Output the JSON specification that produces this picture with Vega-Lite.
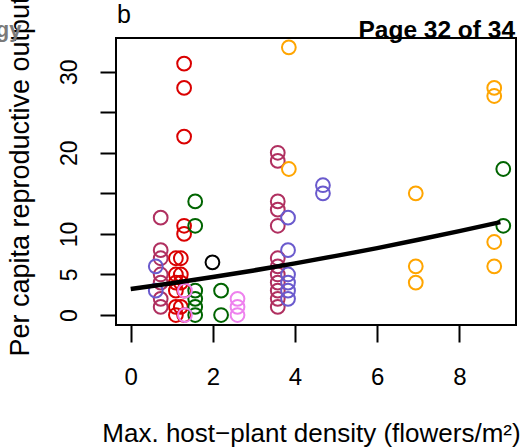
{
  "$schema": "https://vega.github.io/schema/vega-lite/v6.json",
  "width": 400,
  "height": 287,
  "autosize": {"type": "none"},
  "padding": {"left": 116, "top": 38, "right": 16, "bottom": 123},
  "background": "white",
  "config": {
    "view": {"stroke": "black", "strokeWidth": 2},
    "font": "Liberation Sans",
    "axis": {
      "grid": false,
      "domain": false,
      "tickColor": "black",
      "tickWidth": 2,
      "labelColor": "black",
      "titleColor": "black",
      "labelFont": "Liberation Sans",
      "titleFont": "Liberation Sans",
      "titleFontWeight": "normal",
      "labelFontSize": 24,
      "titleFontSize": 26
    }
  },
  "datasets": {
    "pts": [
      {"x": 1.30, "y": 31, "g": "red"},
      {"x": 1.30, "y": 28, "g": "red"},
      {"x": 1.30, "y": 22, "g": "red"},
      {"x": 1.30, "y": 11, "g": "red"},
      {"x": 1.30, "y": 10, "g": "red"},
      {"x": 1.10, "y": 7, "g": "red"},
      {"x": 1.22, "y": 7, "g": "red"},
      {"x": 1.10, "y": 5, "g": "red"},
      {"x": 1.22, "y": 5, "g": "red"},
      {"x": 1.10, "y": 4, "g": "red"},
      {"x": 1.22, "y": 4, "g": "red"},
      {"x": 1.10, "y": 3, "g": "red"},
      {"x": 1.30, "y": 3, "g": "red"},
      {"x": 1.10, "y": 1, "g": "red"},
      {"x": 1.22, "y": 1, "g": "red"},
      {"x": 1.10, "y": 0, "g": "red"},
      {"x": 1.30, "y": 0, "g": "red"},
      {"x": 0.73, "y": 12, "g": "maroon"},
      {"x": 0.73, "y": 8, "g": "maroon"},
      {"x": 0.73, "y": 7, "g": "maroon"},
      {"x": 0.73, "y": 5, "g": "maroon"},
      {"x": 0.73, "y": 4, "g": "maroon"},
      {"x": 0.73, "y": 2, "g": "maroon"},
      {"x": 0.73, "y": 1, "g": "maroon"},
      {"x": 3.58, "y": 20, "g": "maroon"},
      {"x": 3.58, "y": 19, "g": "maroon"},
      {"x": 3.58, "y": 14, "g": "maroon"},
      {"x": 3.58, "y": 13, "g": "maroon"},
      {"x": 3.58, "y": 11, "g": "maroon"},
      {"x": 3.58, "y": 7, "g": "maroon"},
      {"x": 3.58, "y": 6, "g": "maroon"},
      {"x": 3.58, "y": 5, "g": "maroon"},
      {"x": 3.58, "y": 4, "g": "maroon"},
      {"x": 3.58, "y": 3, "g": "maroon"},
      {"x": 3.58, "y": 2, "g": "maroon"},
      {"x": 3.58, "y": 1, "g": "maroon"},
      {"x": 0.61, "y": 6, "g": "slateblue"},
      {"x": 0.61, "y": 3, "g": "slateblue"},
      {"x": 3.83, "y": 12, "g": "slateblue"},
      {"x": 3.83, "y": 8, "g": "slateblue"},
      {"x": 3.83, "y": 5, "g": "slateblue"},
      {"x": 3.83, "y": 4, "g": "slateblue"},
      {"x": 3.83, "y": 3, "g": "slateblue"},
      {"x": 3.83, "y": 2, "g": "slateblue"},
      {"x": 4.68, "y": 16, "g": "slateblue"},
      {"x": 4.68, "y": 15, "g": "slateblue"},
      {"x": 1.57, "y": 14, "g": "green"},
      {"x": 1.57, "y": 11, "g": "green"},
      {"x": 1.57, "y": 3, "g": "green"},
      {"x": 1.57, "y": 2, "g": "green"},
      {"x": 1.57, "y": 1, "g": "green"},
      {"x": 1.57, "y": 0, "g": "green"},
      {"x": 2.20, "y": 3, "g": "green"},
      {"x": 2.20, "y": 0, "g": "green"},
      {"x": 9.07, "y": 18, "g": "green"},
      {"x": 9.07, "y": 11, "g": "green"},
      {"x": 1.99, "y": 6.5, "g": "black"},
      {"x": 1.32, "y": 3, "g": "violet"},
      {"x": 1.32, "y": 0, "g": "violet"},
      {"x": 2.60, "y": 2, "g": "violet"},
      {"x": 2.60, "y": 1, "g": "violet"},
      {"x": 2.60, "y": 0, "g": "violet"},
      {"x": 3.85, "y": 33, "g": "orange"},
      {"x": 3.85, "y": 18, "g": "orange"},
      {"x": 6.94, "y": 15, "g": "orange"},
      {"x": 6.94, "y": 6, "g": "orange"},
      {"x": 6.94, "y": 4, "g": "orange"},
      {"x": 8.85, "y": 28, "g": "orange"},
      {"x": 8.85, "y": 27, "g": "orange"},
      {"x": 8.85, "y": 9, "g": "orange"},
      {"x": 8.85, "y": 6, "g": "orange"}
    ],
    "fit": [
      {"x": 0, "y": 3.2},
      {"x": 1, "y": 3.92},
      {"x": 2, "y": 4.68},
      {"x": 3, "y": 5.5},
      {"x": 4, "y": 6.37},
      {"x": 5, "y": 7.29},
      {"x": 6, "y": 8.25},
      {"x": 7, "y": 9.27},
      {"x": 8, "y": 10.34},
      {"x": 9, "y": 11.45}
    ],
    "one": [{}]
  },
  "layer": [
    {
      "data": {"name": "pts"},
      "mark": {"type": "point", "shape": "circle", "filled": false, "size": 190, "strokeWidth": 2, "opacity": 1},
      "encoding": {
        "x": {
          "field": "x", "type": "quantitative",
          "scale": {"domain": [-0.358, 9.38], "nice": false, "zero": false},
          "axis": {
            "values": [0, 2, 4, 6, 8],
            "title": "Max. host−plant density (flowers/m²)",
            "tickSize": 17, "offset": 0,
            "labelPadding": 23, "labelBaseline": "top", "labelAlign": "center",
            "titleX": 195, "titleY": 116, "titleAlign": "center", "titleBaseline": "alphabetic"
          }
        },
        "y": {
          "field": "y", "type": "quantitative",
          "scale": {"domain": [-1.23, 34.15], "nice": false, "zero": false},
          "axis": {
            "values": [0, 5, 10, 15, 20, 25, 30],
            "labelExpr": "datum.value == 15 || datum.value == 25 ? '' : datum.label",
            "title": "Per capita reproductive output",
            "tickSize": 16, "offset": 0,
            "labelAngle": -90, "labelAlign": "center", "labelBaseline": "alphabetic",
            "labelPadding": 24, "labelFontSize": 23,
            "titleFontSize": 27,
            "titleAngle": -90, "titleX": -88, "titleY": 138, "titleAlign": "center", "titleBaseline": "alphabetic"
          }
        },
        "color": {
          "field": "g", "type": "nominal", "legend": null,
          "scale": {
            "domain": ["red", "maroon", "slateblue", "green", "black", "violet", "orange"],
            "range": ["#DA0000", "#B03060", "#6A5ACD", "#006400", "#000000", "#EE82EE", "#FFA500"]
          }
        }
      }
    },
    {
      "data": {"name": "fit"},
      "mark": {"type": "line", "color": "black", "strokeWidth": 4.5},
      "encoding": {
        "x": {"field": "x", "type": "quantitative"},
        "y": {"field": "y", "type": "quantitative"}
      }
    },
    {
      "data": {"name": "one"},
      "mark": {"type": "text", "text": "Ecology", "align": "right", "baseline": "alphabetic", "fontSize": 22, "fontWeight": "bold", "color": "#7a7a7a", "clip": false},
      "encoding": {
        "x": {"datum": -2.66, "type": "quantitative"},
        "y": {"datum": 34.3, "type": "quantitative"}
      }
    },
    {
      "data": {"name": "one"},
      "mark": {"type": "text", "text": "b", "align": "left", "baseline": "alphabetic", "fontSize": 25, "color": "black", "clip": false},
      "encoding": {
        "x": {"datum": -0.334, "type": "quantitative"},
        "y": {"datum": 36.0, "type": "quantitative"}
      }
    },
    {
      "data": {"name": "one"},
      "mark": {"type": "text", "text": "Page 32 of 34", "align": "right", "baseline": "alphabetic", "fontSize": 24.5, "fontWeight": "bold", "color": "black", "clip": false},
      "encoding": {
        "x": {"datum": 9.357, "type": "quantitative"},
        "y": {"datum": 34.2, "type": "quantitative"}
      }
    }
  ]
}
